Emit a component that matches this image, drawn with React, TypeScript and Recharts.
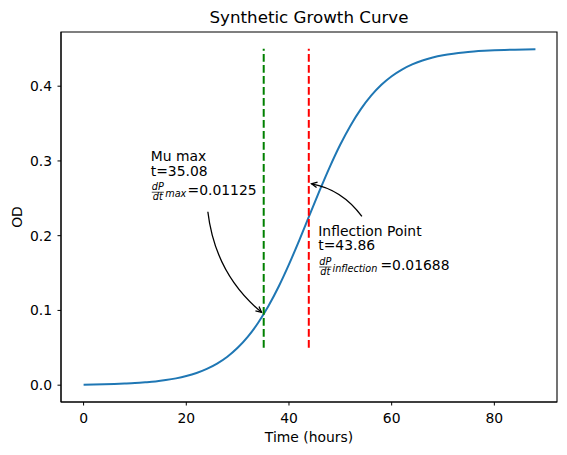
import { LineChart, Line, XAxis, YAxis, ReferenceLine, ReferenceDot, ReferenceArea } from "recharts";

const FONT = "DejaVu Sans, sans-serif";
const FS = 13.9;

// values (OD vs time)
const hours = [
  0, 2, 4, 6, 8, 10, 12, 14, 16, 18, 20, 22, 24, 26, 28, 30, 32, 34, 36, 38, 40, 42, 44,
  46, 48, 50, 52, 54, 56, 58, 60, 62, 64, 66, 68, 70, 72, 74, 76, 78, 80, 82, 84, 86, 88,
];
const odValues = [
  0.0006, 0.0008, 0.0011, 0.0015, 0.0021, 0.0028, 0.0038, 0.005, 0.0068, 0.0091, 0.0122,
  0.0163, 0.0218, 0.0289, 0.0381, 0.05, 0.065, 0.0835, 0.1059, 0.132, 0.1616, 0.1938,
  0.2274, 0.2608, 0.2927, 0.3219, 0.3475, 0.3693, 0.3873, 0.4018, 0.4133, 0.4222, 0.4291,
  0.4343, 0.4383, 0.4413, 0.4435, 0.4452, 0.4464, 0.4473, 0.448, 0.4485, 0.4489, 0.4492,
  0.4494,
];
const xTicks = [0, 20, 40, 60, 80];
const yTicks = [0, 0.1, 0.2, 0.3, 0.4];
const markerRange = [0.05, 0.45];

const muMax = { t: 35.08, od: 0.0951, rate: "0.01125", title: "Mu max", sub: "max" };
const inflection = { t: 43.86, od: 0.27, rate: "0.01688", title: "Inflection Point", sub: "inflection" };

const data = hours.map((t, i) => ({ t, od: odValues[i] }));

const X_DOMAIN: [number, number] = [-4.4, 92.2];
const Y_DOMAIN: [number, number] = [-0.0225, 0.4725];

const curvedArrow = (rad: number) => (props: any) => {
  const { x1, y1, x2, y2 } = props;
  const dx = x2 - x1;
  const dy = y2 - y1;
  const cx = (x1 + x2) / 2 - rad * dy;
  const cy = (y1 + y2) / 2 + rad * dx;
  let ux = x2 - cx;
  let uy = y2 - cy;
  const len = Math.hypot(ux, uy);
  ux /= len;
  uy /= len;
  const tx = x2 - ux * 2.8;
  const ty = y2 - uy * 2.8;
  const bx = tx - ux * 5.6;
  const by = ty - uy * 5.6;
  const nx = -uy * 2.8;
  const ny = ux * 2.8;
  return (
    <g>
      <path d={`M${x1},${y1} Q${cx},${cy} ${tx},${ty}`} fill="none" stroke="#000" strokeWidth={1.3} />
      <path
        d={`M${bx + nx},${by + ny} L${tx},${ty} L${bx - nx},${by - ny}`}
        fill="none"
        stroke="#000"
        strokeWidth={1.3}
      />
    </g>
  );
};

const annotationText =
  (info: typeof muMax, label: string, subDx: number, eqDx: number) => (props: any) => {
    const { cx, cy } = props;
    const b = cy + 34.5;
    return (
      <g fontFamily={FONT} fill="#000">
        <text x={cx} y={cy} fontSize={FS}>{info.title}</text>
        <text x={cx} y={cy + 14.8} fontSize={FS}>{label}</text>
        <text x={cx + 7} y={b - 5.5} fontSize={9.7} fontStyle="italic" textAnchor="middle">dP</text>
        <line x1={cx + 1} x2={cx + 13.2} y1={b - 3.2} y2={b - 3.2} stroke="#000" strokeWidth={0.7} />
        <text x={cx + 7} y={b + 4.5} fontSize={9.7} fontStyle="italic" textAnchor="middle">dt</text>
        <text x={cx + subDx} y={b + 1.8} fontSize={9.7} fontStyle="italic">{info.sub}</text>
        <text x={cx + eqDx} y={b} fontSize={FS}>={info.rate}</text>
      </g>
    );
  };

const titleLabel = (props: any) => {
  const { x, y, width } = props.viewBox;
  return (
    <text x={x + width / 2} y={y - 9} textAnchor="middle" fontSize={16.7} fontFamily={FONT} fill="#000">
      Synthetic Growth Curve
    </text>
  );
};

const yLabel = (props: any) => {
  const { x, y, height } = props.viewBox;
  const lx = x + 21.5;
  const ly = y + height / 2;
  return (
    <text x={lx} y={ly} transform={`rotate(-90 ${lx} ${ly})`} textAnchor="middle" fontSize={FS} fontFamily={FONT} fill="#000">
      OD
    </text>
  );
};

const xLabel = (props: any) => {
  const { x, y, width } = props.viewBox;
  return (
    <text x={x + width / 2} y={y + 40} textAnchor="middle" fontSize={FS} fontFamily={FONT} fill="#000">
      Time (hours)
    </text>
  );
};

export default function App() {
  return (
    <div style={{ position: "absolute", left: 0, top: 0, width: 567, height: 455, background: "#fff" }}>
      <LineChart
        width={567}
        height={455}
        data={data}
        margin={{ top: 32, right: 10, bottom: 0, left: 0 }}
        style={{ fontFamily: FONT }}
      >
        <XAxis
          dataKey="t"
          type="number"
          domain={X_DOMAIN}
          ticks={xTicks}
          allowDataOverflow
          height={53}
          tickSize={3.5}
          tickMargin={7.5}
          stroke="#000"
          tick={{ fill: "#000", fontSize: FS }}
          label={xLabel}
        />
        <YAxis
          type="number"
          domain={Y_DOMAIN}
          ticks={yTicks}
          allowDataOverflow
          width={61}
          tickSize={3.5}
          tickMargin={5.5}
          stroke="#000"
          tickFormatter={(v: number) => v.toFixed(1)}
          tick={{ fill: "#000", fontSize: FS }}
          label={yLabel}
        />
        <ReferenceArea
          x1={X_DOMAIN[0]}
          x2={X_DOMAIN[1]}
          y1={Y_DOMAIN[0]}
          y2={Y_DOMAIN[1]}
          fill="none"
          stroke="#000"
          strokeWidth={1.1}
          label={titleLabel}
        />
        <Line
          dataKey="od"
          type="monotone"
          stroke="#1f77b4"
          strokeWidth={2}
          dot={false}
          isAnimationActive={false}
        />
        <ReferenceLine
          segment={[{ x: muMax.t, y: markerRange[0] }, { x: muMax.t, y: markerRange[1] }]}
          stroke="#008000"
          strokeWidth={2}
          strokeDasharray="7.7 3.3"
        />
        <ReferenceLine
          segment={[{ x: inflection.t, y: markerRange[0] }, { x: inflection.t, y: markerRange[1] }]}
          stroke="#ff0000"
          strokeWidth={2}
          strokeDasharray="7.7 3.3"
        />
        <ReferenceLine
          segment={[{ x: 24.2, y: 0.232 }, { x: muMax.t, y: muMax.od }]}
          shape={curvedArrow(0.2)}
        />
        <ReferenceLine
          segment={[{ x: 54.2, y: 0.2257 }, { x: inflection.t, y: inflection.od }]}
          shape={curvedArrow(0.2)}
        />
        <ReferenceDot
          x={13.08}
          y={0.3}
          r={0}
          shape={annotationText(muMax, "t=35.08", 14.5, 36.8)}
        />
        <ReferenceDot
          x={45.7}
          y={0.2}
          r={0}
          shape={annotationText(inflection, "t=43.86", 14.2, 62.2)}
        />
      </LineChart>
    </div>
  );
}
